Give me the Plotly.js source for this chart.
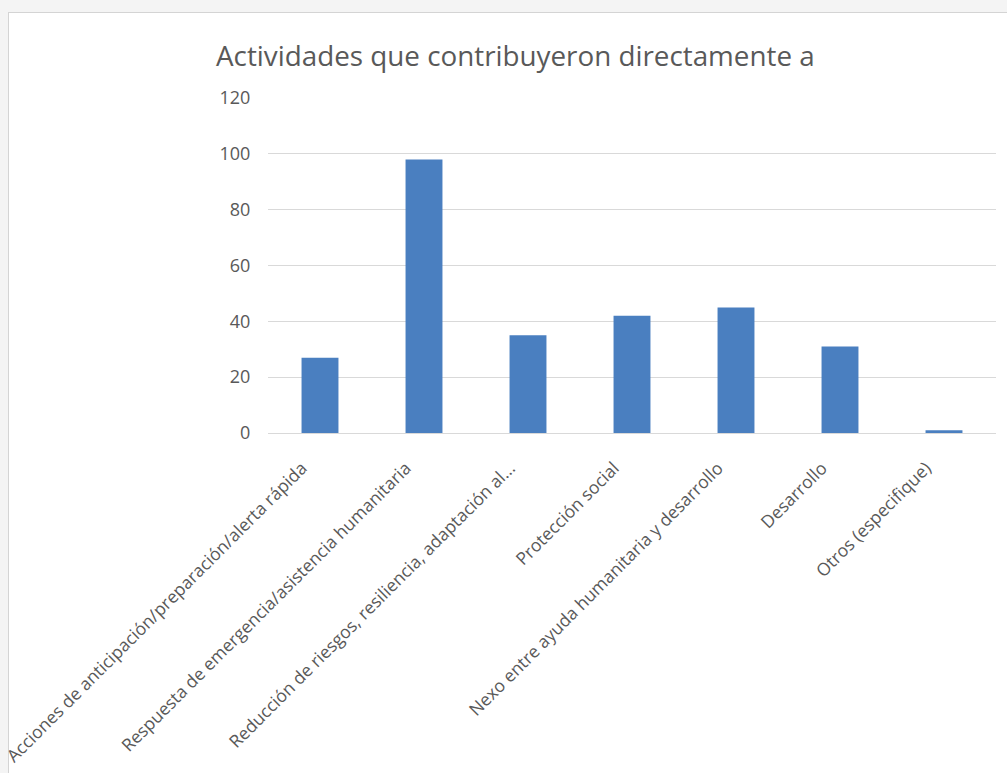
<!DOCTYPE html>
<html>
<head>
<meta charset="utf-8">
<script src="https://cdn.plot.ly/plotly-3.0.1.min.js"></script>
<style>
  html, body { margin: 0; padding: 0; background: #f4f4f4; width: 1007px; height: 773px; overflow: hidden; }
  #frame { position: absolute; left: 8px; top: 12px; width: 1010px; height: 780px; background: #ffffff; border: 1px solid #d4d4d4; }
  #chart { position: absolute; left: 0; top: 0; width: 1007px; height: 773px; }
</style>
</head>
<body>
<div id="frame"></div>
<div id="chart"></div>
<script>
const categories = [
  "Acciones de anticipación/preparación/alerta rápida",
  "Respuesta de emergencia/asistencia humanitaria",
  "Reducción de riesgos, resiliencia, adaptación al...",
  "Protección social",
  "Nexo entre ayuda humanitaria y desarrollo",
  "Desarrollo",
  "Otros (especifique)"
];
const values = [27, 98, 35, 42, 45, 31, 1];
const yTicks = [0, 20, 40, 60, 80, 100, 120];
const chartTitle = "Actividades que contribuyeron directamente a";

const fontFam = "'Open Sans', Lato, sans-serif";
const data = [{
  type: "bar",
  x: categories,
  y: values,
  marker: { color: "#4a7fc0" },
  hoverinfo: "x+y"
}];
const layout = {
  width: 1007,
  height: 773,
  paper_bgcolor: "rgba(0,0,0,0)",
  plot_bgcolor: "rgba(0,0,0,0)",
  margin: { l: 268, r: 11, t: 98, b: 340, pad: 0 },
  bargap: 0.645,
  showlegend: false,
  title: {
    text: chartTitle,
    x: 216 / 1007, xref: "container", xanchor: "left",
    y: 1 - 66 / 773, yref: "container", yanchor: "bottom",
    font: { family: fontFam, size: 27.8, color: "#595959" }
  },
  font: { family: fontFam, color: "#595959" },
  xaxis: {
    type: "category",
    tickangle: -45,
    tickfont: { family: fontFam, size: 17.5, color: "#595959" },
    showgrid: false,
    showline: true,
    linecolor: "#d9d9d9",
    linewidth: 1,
    ticks: "",
    ticklabelstandoff: 17,
    ticklabelshift: -18,
    automargin: false
  },
  yaxis: {
    range: [0, 120],
    tickvals: yTicks,
    ticktext: yTicks.map(String),
    tickfont: { family: fontFam, size: 18, color: "#595959" },
    showgrid: true,
    gridcolor: "#d9d9d9",
    gridwidth: 1,
    zeroline: false,
    showline: false,
    ticks: "outside",
    ticklen: 13,
    tickcolor: "rgba(0,0,0,0)",
    automargin: false
  }
};
Plotly.newPlot("chart", data, layout, { displayModeBar: false, staticPlot: true });
</script>
</body>
</html>
